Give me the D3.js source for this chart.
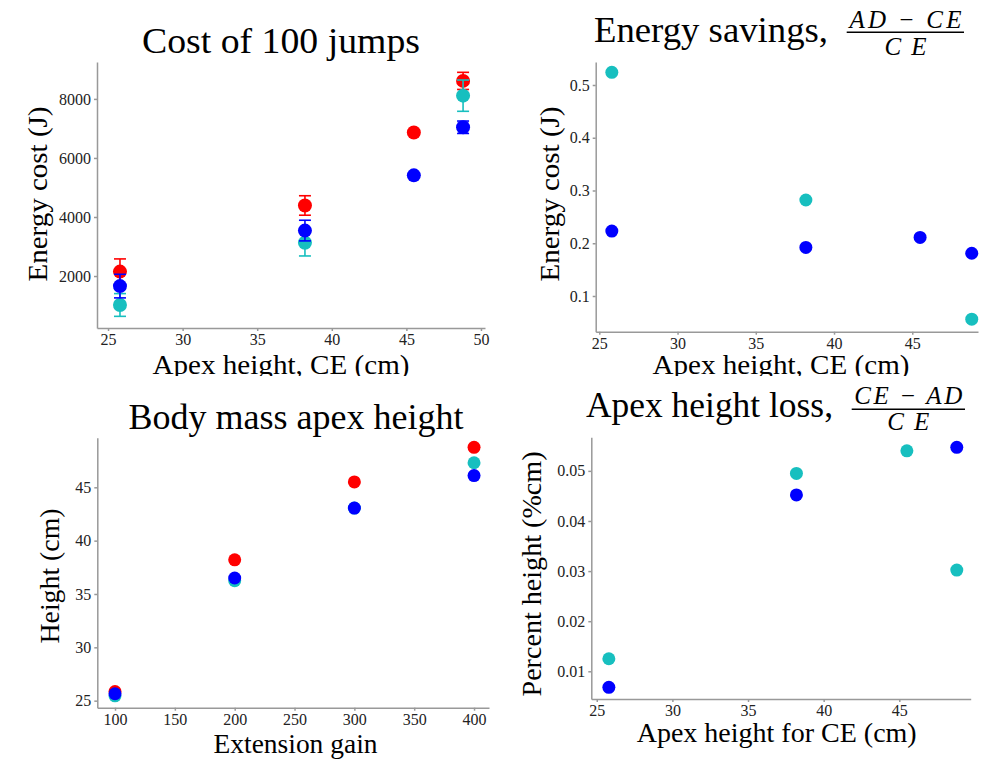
<!DOCTYPE html>
<html>
<head>
    <meta charset="utf-8">
    <title>Jump energy panels</title>
    <script src="https://d3js.org/d3.v7.min.js"></script>
    <style>
        body { margin: 0; background: #fff; }
        svg { display: block; font-family: "Liberation Serif", "DejaVu Serif", serif; }
        .axis path, .axis line { stroke: #999; stroke-width: 1.5; }
    </style>
</head>
<body>
<script>
    // --- data ---
    const apexCE = [25.8, 38.2, 45.5, 48.8]

    // Cost of 100 jumps (J)
    const costRed = [2150, 4390, 6860, 8610]
    const costRedErr = [430, 330, 80, 290]
    const costCyanX = [25.8, 38.2, 48.8]
    const costCyan = [1020, 3130, 8110]
    const costCyanErr = [385, 450, 530]
    const costBlue = [1660, 3540, 5410, 7040]
    const costBlueErr = [400, 350, 60, 210]

    // Energy savings
    const saveCyanX = [25.8, 38.2, 48.8]
    const saveCyan = [0.524, 0.282, 0.056]
    const saveBlue = [0.223, 0.192, 0.211, 0.181]

    // Body mass apex height
    const gain = [100, 200, 300, 400]
    const heightRed = [25.85, 38.2, 45.5, 48.75]
    const heightCyan = [25.45, 36.25, 43.05, 47.3]
    const heightBlue = [25.65, 36.5, 43.05, 46.1]

    // Apex height loss
    const lossCyanX = [25.8, 38.2, 45.5, 48.8]
    const lossCyan = [0.0125, 0.0495, 0.054, 0.0302]
    const lossBlueX = [25.8, 38.2, 48.8]
    const lossBlue = [0.0068, 0.0452, 0.0547]

    const RED = "#ff0000", CYAN = "#17bfbf", BLUE = "#0000ff"
    const SERIF = "'Liberation Serif', 'DejaVu Serif', serif"

    const svg = d3.select("body").append("svg")
        .attr("width", 989)
        .attr("height", 760)

    svg.append("clipPath").attr("id", "topclip")
        .append("rect").attr("x", 0).attr("y", 0).attr("width", 989).attr("height", 376)

    function styleAxis(sel) {
        sel.attr("font-family", SERIF).attr("font-size", 16)
        sel.selectAll("text").style("font-family", SERIF).style("font-size", "16px").attr("fill", "#222")
    }

    function panel(opts) {
        const g = svg.append("g")
        if (opts.clip) g.attr("clip-path", "url(#topclip)")

        const x = d3.scaleLinear().domain(opts.xDomain).range(opts.xRange)
        const y = d3.scaleLinear().domain(opts.yDomain).range(opts.yRange)

        g.append("g").attr("class", "axis")
            .attr("transform", "translate(0," + opts.yRange[0] + ")")
            .call(d3.axisBottom(x).tickValues(opts.xTicks).tickSize(3).tickSizeOuter(0).tickPadding(3).tickFormat(d3.format("d")))
            .call(styleAxis)

        g.append("g").attr("class", "axis")
            .attr("transform", "translate(" + opts.xRange[0] + ",0)")
            .call(d3.axisLeft(y).tickValues(opts.yTicks).tickSize(3).tickSizeOuter(0).tickPadding(3).tickFormat(d3.format(opts.yFormat)))
            .call(styleAxis)

        opts.series.forEach(s => {
            const pts = s.x.map((xv, i) => ({ x: xv, y: s.y[i], e: s.err ? s.err[i] : 0 }))
            if (s.err) {
                const eb = g.append("g").attr("stroke", s.color).attr("stroke-width", 1.6)
                pts.forEach(d => {
                    const cx = x(d.x)
                    eb.append("line").attr("x1", cx).attr("x2", cx).attr("y1", y(d.y - d.e)).attr("y2", y(d.y + d.e))
                    eb.append("line").attr("x1", cx - 6).attr("x2", cx + 6).attr("y1", y(d.y - d.e)).attr("y2", y(d.y - d.e))
                    eb.append("line").attr("x1", cx - 6).attr("x2", cx + 6).attr("y1", y(d.y + d.e)).attr("y2", y(d.y + d.e))
                })
            }
            g.selectAll(null)
                .data(pts)
                .enter()
                .append("circle")
                .attr("cx", d => x(d.x))
                .attr("cy", d => y(d.y))
                .attr("r", opts.r)
                .attr("fill", s.color)
        })

        // title
        g.append("text")
            .attr("x", opts.title.x).attr("y", opts.title.y)
            .attr("text-anchor", opts.title.anchor || "middle")
            .attr("font-size", 36)
            .attr("textLength", opts.title.len).attr("lengthAdjust", "spacingAndGlyphs")
            .text(opts.title.text)

        if (opts.frac) {
            const f = opts.frac
            g.append("text").attr("x", f.cx).attr("y", f.numY)
                .attr("text-anchor", "middle").attr("font-size", 25).attr("font-style", "italic")
                .attr("textLength", f.numLen).attr("lengthAdjust", "spacing")
                .text(f.num)
            g.append("line").attr("x1", f.x1).attr("x2", f.x2).attr("y1", f.lineY).attr("y2", f.lineY)
                .attr("stroke", "#000").attr("stroke-width", 1.4)
            g.append("text").attr("x", f.cx).attr("y", f.denY)
                .attr("text-anchor", "middle").attr("font-size", 25).attr("font-style", "italic")
                .attr("textLength", f.denLen).attr("lengthAdjust", "spacing")
                .text(f.den)
        }

        // axis labels
        g.append("text")
            .attr("x", opts.xLabel.x).attr("y", opts.xLabel.y)
            .attr("text-anchor", "middle").attr("font-size", 28)
            .attr("textLength", opts.xLabel.len).attr("lengthAdjust", "spacingAndGlyphs")
            .text(opts.xLabel.text)

        g.append("text")
            .attr("transform", "translate(" + opts.yLabel.x + "," + opts.yLabel.y + ") rotate(-90)")
            .attr("text-anchor", "middle").attr("font-size", 28)
            .attr("textLength", opts.yLabel.len).attr("lengthAdjust", "spacingAndGlyphs")
            .text(opts.yLabel.text)
    }

    panel({
        clip: true, r: 7,
        xDomain: [24.26, 50.27], xRange: [97, 485],
        yDomain: [240, 9250], yRange: [328, 62],
        xTicks: [25, 30, 35, 40, 45, 50], yTicks: [2000, 4000, 6000, 8000], yFormat: "d",
        series: [
            { x: apexCE, y: costRed, err: costRedErr, color: RED },
            { x: costCyanX, y: costCyan, err: costCyanErr, color: CYAN },
            { x: apexCE, y: costBlue, err: costBlueErr, color: BLUE }
        ],
        title: { text: "Cost of 100 jumps", x: 281, y: 53, len: 278 },
        xLabel: { text: "Apex height, CE (cm)", x: 281, y: 374, len: 257 },
        yLabel: { text: "Energy cost (J)", x: 47, y: 194, len: 175 }
    })

    panel({
        clip: true, r: 6.5,
        xDomain: [24.77, 49.2], xRange: [595.7, 978],
        yDomain: [0.0323, 0.5436], yRange: [331.7, 62],
        xTicks: [25, 30, 35, 40, 45], yTicks: [0.1, 0.2, 0.3, 0.4, 0.5], yFormat: ".1f",
        series: [
            { x: saveCyanX, y: saveCyan, color: CYAN },
            { x: apexCE, y: saveBlue, color: BLUE }
        ],
        title: { text: "Energy savings,", x: 594, y: 42, len: 234, anchor: "start" },
        frac: { num: "AD\u2009\u2212\u2009CE", den: "CE", cx: 905.5, numY: 27.5, denY: 54.5, numLen: 112, denLen: 42, x1: 846.7, x2: 964, lineY: 32.3 },
        xLabel: { text: "Apex height, CE (cm)", x: 781, y: 374, len: 257 },
        yLabel: { text: "Energy cost (J)", x: 558.5, y: 194, len: 175 }
    })

    panel({
        clip: false, r: 6.5,
        xDomain: [85.2, 412.5], xRange: [97.3, 489],
        yDomain: [24.34, 49.65], yRange: [707.7, 437.7],
        xTicks: [100, 150, 200, 250, 300, 350, 400], yTicks: [25, 30, 35, 40, 45], yFormat: "d",
        series: [
            { x: gain, y: heightRed, color: RED },
            { x: gain, y: heightCyan, color: CYAN },
            { x: gain, y: heightBlue, color: BLUE }
        ],
        title: { text: "Body mass apex height", x: 296, y: 428.5, len: 335 },
        xLabel: { text: "Extension gain", x: 295.5, y: 752.7, len: 164 },
        yLabel: { text: "Height (cm)", x: 58.5, y: 576, len: 135 }
    })

    panel({
        clip: false, r: 6.5,
        xDomain: [24.64, 49.72], xRange: [591.3, 970.7],
        yDomain: [0.00447, 0.0567], yRange: [699, 437.3],
        xTicks: [25, 30, 35, 40, 45], yTicks: [0.01, 0.02, 0.03, 0.04, 0.05], yFormat: ".2f",
        series: [
            { x: lossCyanX, y: lossCyan, color: CYAN },
            { x: lossBlueX, y: lossBlue, color: BLUE }
        ],
        title: { text: "Apex height loss,", x: 586, y: 417.3, len: 247, anchor: "start" },
        frac: { num: "CE\u2009\u2212\u2009AD", den: "CE", cx: 908.3, numY: 404, denY: 430, numLen: 108, denLen: 42, x1: 851.7, x2: 965, lineY: 409.3 },
        xLabel: { text: "Apex height for CE (cm)", x: 776.7, y: 741.7, len: 280 },
        yLabel: { text: "Percent height (%cm)", x: 540.7, y: 574, len: 245 }
    })
</script>
</body>
</html>
